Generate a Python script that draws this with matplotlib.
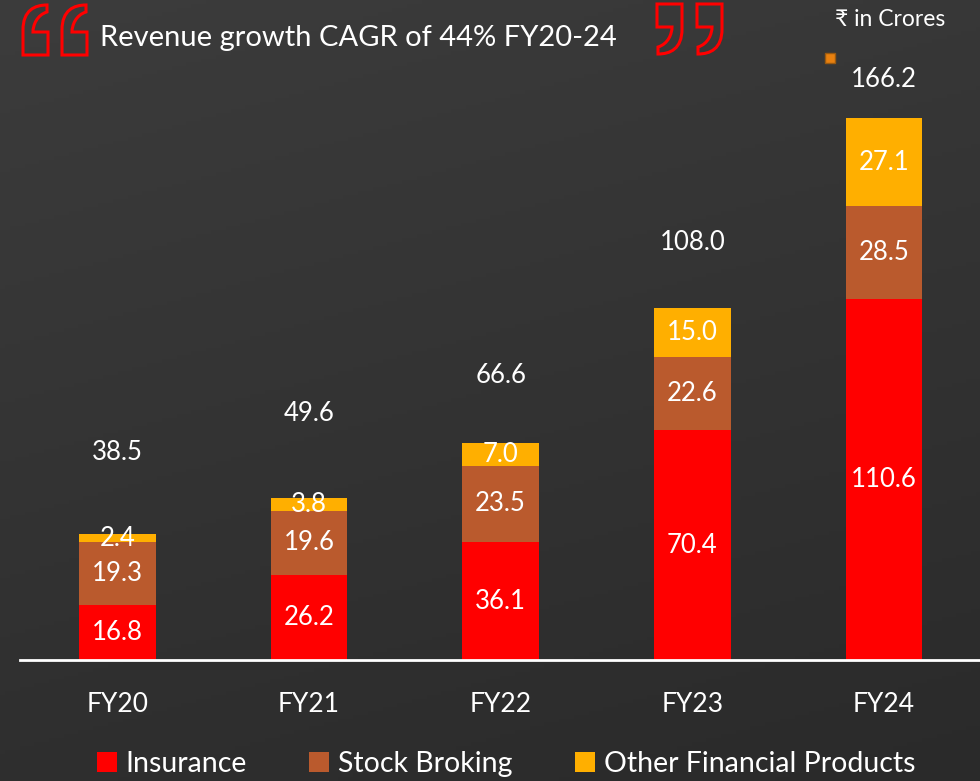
import numpy as np
import matplotlib.pyplot as plt
from matplotlib.path import Path
from matplotlib.patches import PathPatch, Rectangle, Arc

years = ['FY20', 'FY21', 'FY22', 'FY23', 'FY24']
insurance = [16.8, 26.2, 36.1, 70.4, 110.6]
stock_broking = [19.3, 19.6, 23.5, 22.6, 28.5]
other_products = [2.4, 3.8, 7.0, 15.0, 27.1]
totals = [38.5, 49.6, 66.6, 108.0, 166.2]
series_names = ['Insurance', 'Stock Broking', 'Other Financial Products']
colors = ['#FF0000', '#BA5A2D', '#FFAF00']

plt.rcParams['font.family'] = ['Lato', 'DejaVu Sans']

fig = plt.figure(figsize=(9.8, 7.81), dpi=100)

# background gradient + decorations in pixel space
bg = fig.add_axes([0, 0, 1, 1])
bg.set_xlim(0, 980)
bg.set_ylim(781, 0)
bg.axis('off')
yy, xx = np.mgrid[0:1:200j, 0:1:200j]
grad = 0.235 - 0.07 * (0.75 * yy + 0.25 * xx)
bg.imshow(np.dstack([grad, grad, grad]), extent=[0, 980, 781, 0], aspect='auto', zorder=0)


def quote(x0, y0, flip=False):
    pts = [(0, 50), (0, 25), (0, 5), (12, 0), (24, 0), (24, 7), (14, 10), (10, 20),
           (10, 27), (25, 27), (25, 50), (0, 50)]
    codes = [Path.MOVETO, Path.LINETO, Path.CURVE4, Path.CURVE4, Path.CURVE4, Path.LINETO,
             Path.CURVE4, Path.CURVE4, Path.CURVE4, Path.LINETO, Path.LINETO, Path.CLOSEPOLY]
    if flip:
        pts = [(25 - px, 50 - py) for px, py in pts]
    verts = [(x0 + px, y0 + py) for px, py in pts]
    bg.add_patch(PathPatch(Path(verts, codes), facecolor='none', edgecolor='#FF0000', lw=2.2, zorder=2))


quote(23, 5)
quote(62, 5)
quote(657, 4, flip=True)
quote(697, 4, flip=True)
bg.text(100, 38, 'Revenue growth CAGR of 44% FY20-24', color='white', fontsize=21,
        va='center', ha='left', zorder=3)
bg.text(890, 20, '₹ in Crores', color='white', fontsize=16.5, va='center', ha='center',
        family=['Lato', 'DejaVu Sans'], zorder=3)
bg.add_patch(Rectangle((825, 53), 10, 10, facecolor='#E8800F', edgecolor='#9A5A10', lw=1, zorder=3))
bg.add_patch(Arc((1000, -60), 260, 130, theta1=230, theta2=300, color='#bbbbbb', lw=1.5, zorder=3))

ax = fig.add_axes([20 / 980, 1 - 660 / 781, 960 / 980, 587 / 781])
ax.patch.set_alpha(0)
x = np.arange(len(years))
bottoms = np.zeros(len(years))
for vals, name, c in zip([insurance, stock_broking, other_products], series_names, colors):
    vals = np.array(vals)
    ax.bar(x, vals, 0.4, bottom=bottoms, color=c, label=name, zorder=2)
    for xi, b, v in zip(x, bottoms, vals):
        ax.text(xi, b + v / 2, f'{v:.1f}', color='white', fontsize=18.5, ha='center', va='center', zorder=3)
    bottoms = bottoms + vals

label_offsets = [25, 26, 20.5, 20, 11.7]
for xi, t, off in zip(x, totals, label_offsets):
    ax.text(xi, t + off, f'{t:.1f}', color='white', fontsize=18.5, ha='center', va='center')

ax.set_xlim(-0.507, 4.5)
ax.set_ylim(0, 180)
for s in ['top', 'right', 'left']:
    ax.spines[s].set_visible(False)
ax.spines['bottom'].set_color('white')
ax.spines['bottom'].set_linewidth(2)
ax.set_yticks([])
ax.set_xticks(x)
ax.set_xticklabels(years, color='white', fontsize=19)
ax.tick_params(axis='x', length=0, pad=23)

fig.legend(loc='center', bbox_to_anchor=(506 / 980, 1 - 764 / 781), ncol=3, frameon=False,
           fontsize=20.5, labelcolor='white', handlelength=0.7, handleheight=0.7,
           handletextpad=0.3, columnspacing=2.2)

fig.savefig('out.png', dpi=100)
